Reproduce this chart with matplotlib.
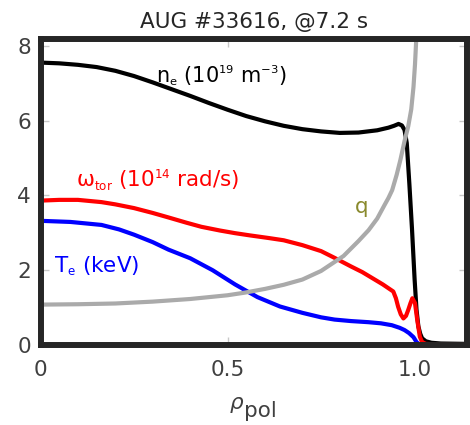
import matplotlib
matplotlib.use('Agg')
import matplotlib.pyplot as plt
import matplotlib._mathtext as mathtext_internal

# smaller sub/superscripts, like the original
mathtext_internal.SHRINK_FACTOR = 0.55

plt.rcParams.update({'font.size': 15.5, 'font.family': 'DejaVu Sans',
                     'mathtext.default': 'regular'})

# electron density (10^19 m^-3)
rho_ne = [0, 0.05, 0.1, 0.15, 0.2, 0.25, 0.3, 0.35, 0.4, 0.45, 0.5, 0.55, 0.6,
          0.65, 0.7, 0.75, 0.8, 0.85, 0.9, 0.93, 0.945, 0.957, 0.966, 0.973,
          0.979, 0.986, 0.993, 1.0, 1.005, 1.01, 1.015, 1.02, 1.03, 1.045,
          1.07, 1.14]
ne = [7.55, 7.53, 7.49, 7.43, 7.33, 7.19, 7.02, 6.84, 6.66, 6.47, 6.29, 6.12,
      5.98, 5.86, 5.77, 5.71, 5.67, 5.68, 5.74, 5.81, 5.86, 5.91, 5.87, 5.75,
      5.4, 4.3, 3.1, 1.75, 0.95, 0.5, 0.3, 0.18, 0.1, 0.06, 0.04, 0.03]

# toroidal rotation (10^14 rad/s)
rho_w = [0, 0.05, 0.1, 0.163, 0.2, 0.25, 0.3, 0.342, 0.39, 0.43, 0.48, 0.52,
         0.56, 0.61, 0.65, 0.7, 0.75, 0.786, 0.83, 0.86, 0.885, 0.915, 0.943,
         0.95, 0.956, 0.963, 0.97, 0.977, 0.983, 0.989, 0.994, 1.001, 1.007,
         1.014, 1.02, 1.03, 1.05, 1.14]
w_tor = [3.86, 3.88, 3.88, 3.82, 3.76, 3.66, 3.53, 3.41, 3.27, 3.16, 3.06, 2.99,
         2.93, 2.86, 2.80, 2.67, 2.51, 2.33, 2.10, 1.95, 1.80, 1.62, 1.43, 1.25,
         1.02, 0.82, 0.71, 0.78, 0.94, 1.12, 1.25, 1.12, 0.67, 0.22, 0.08, 0.03,
         0.02, 0.02]

# electron temperature (keV)
rho_te = [0, 0.08, 0.163, 0.21, 0.25, 0.3, 0.342, 0.4, 0.46, 0.52, 0.58, 0.64,
          0.7, 0.75, 0.786, 0.83, 0.877, 0.91, 0.939, 0.96, 0.973, 0.985, 0.997,
          1.005, 1.012, 1.02]
te = [3.32, 3.29, 3.21, 3.09, 2.95, 2.75, 2.55, 2.32, 2.0, 1.62, 1.28, 1.03,
      0.86, 0.74, 0.68, 0.64, 0.61, 0.58, 0.53, 0.46, 0.40, 0.32, 0.21, 0.08,
      0.02, 0.0]

# safety factor
rho_q = [0, 0.1, 0.2, 0.3, 0.4, 0.5, 0.546, 0.6, 0.65, 0.7, 0.75, 0.786, 0.81,
         0.83, 0.85, 0.877, 0.9, 0.92, 0.93, 0.94, 0.952, 0.962, 0.973, 0.983,
         0.991, 0.997, 1.001, 1.004, 1.007]
q = [1.08, 1.09, 1.11, 1.16, 1.23, 1.33, 1.40, 1.5, 1.61, 1.75, 1.98, 2.22, 2.38,
     2.58, 2.78, 3.07, 3.38, 3.75, 3.93, 4.14, 4.55, 4.95, 5.45, 5.85, 6.3, 6.9,
     7.5, 8.1, 8.6]

fig = plt.figure(figsize=(4.7, 4.25), dpi=100)
ax = fig.add_axes([0.0862, 0.1882, 0.9074, 0.72])

ax.plot(rho_ne, ne, color='black', lw=3)
ax.plot(rho_te, te, color='#0000ff', lw=3)
ax.plot(rho_w, w_tor, color='#ff0000', lw=3)
ax.plot(rho_q, q, color='#aaaaaa', lw=3)

ax.text(0.31, 7.03, 'n$_e$ (10$^{19}$ m$^{-3}$)', color='black', fontsize=15)
ax.text(0.096, 4.22, 'ω$_{tor}$ (10$^{14}$ rad/s)', color='#ff0000')
ax.text(0.035, 1.95, 'T$_e$ (keV)', color='#0000ff')
ax.text(0.84, 3.53, 'q', color='#8a8a2e')

ax.set_xlim(0, 1.14)
ax.set_ylim(0, 8.18)
ax.set_xticks([0, 0.5, 1.0])
ax.set_xticklabels(['0', '0.5', '1.0'])
ax.set_yticks([0, 2, 4, 6, 8])
ax.tick_params(direction='in', top=True, right=True, length=6, width=1,
               color='#c8c8c8', labelcolor='#404040')
ax.tick_params(axis='x', pad=11)
ax.tick_params(axis='y', pad=7)
for s in ax.spines.values():
    s.set_linewidth(4.3)
    s.set_color('#262626')

ax.set_title('AUG #33616, @7.2 s', color='#262626', fontsize=15.5, pad=8)
fig.text(230 / 470, 1 - 409 / 425, 'ρ', style='italic', color='#404040')
fig.text(244 / 470, 1 - 417 / 425, 'pol', color='#404040')

fig.savefig('out.png', dpi=100)
